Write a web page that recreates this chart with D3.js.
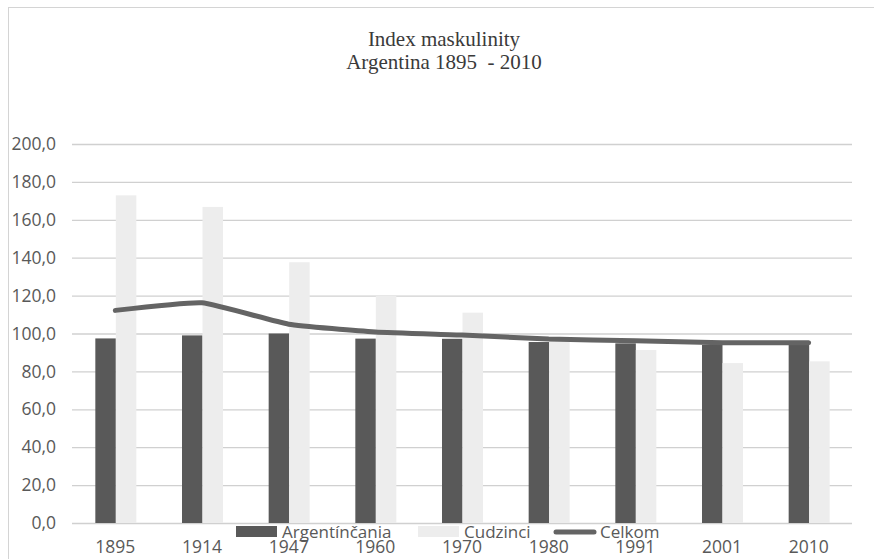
<!DOCTYPE html>
<html>
<head>
<meta charset="utf-8">
<script src="https://cdn.jsdelivr.net/npm/d3@7"></script>
<style>
  body { margin: 0; background: #fff; }
  svg { display: block; }
</style>
</head>
<body>
<div id="chart"></div>
<script>
const years = ['1895', '1914', '1947', '1960', '1970', '1980', '1991', '2001', '2010']
const argentincania = [97.4, 99.0, 100.0, 97.3, 97.2, 95.5, 94.8, 94.0, 94.1]
const cudzinci = [172.9, 166.8, 137.6, 119.8, 111.0, 97.5, 91.3, 84.4, 85.3]
const celkom = [112.2, 116.2, 104.9, 100.8, 99.2, 97.1, 96.2, 95.1, 95.1]
const yTicks = [0, 20, 40, 60, 80, 100, 120, 140, 160, 180, 200]
const seriesNames = ['Argentínčania', 'Cudzinci', 'Celkom']

const W = 874, H = 559
const margin = { top: 144, right: 22, bottom: 36, left: 72 }
const width = W - margin.left - margin.right
const height = H - margin.top - margin.bottom
const textColor = '#595959'
const font = '"Open Sans", sans-serif'

const svg = d3.select('#chart').append('svg')
  .attr('width', W)
  .attr('height', H)

// chart frame
svg.append('rect')
  .attr('x', 8.5).attr('y', 7.5)
  .attr('width', W + 10).attr('height', H + 10)
  .attr('fill', 'none')
  .attr('stroke', '#d4d4d4')

// title
const title = svg.append('text')
  .attr('text-anchor', 'middle')
  .style('font-family', '"Liberation Serif", serif')
  .style('font-size', '21px')
  .attr('fill', '#3a3a3a')
title.append('tspan').attr('x', 444).attr('y', 46).text('Index maskulinity')
title.append('tspan').attr('x', 444).attr('y', 69).attr('xml:space', 'preserve').text('Argentina 1895  - 2010')

const g = svg.append('g').attr('transform', `translate(${margin.left},${margin.top})`)

const x = d3.scaleBand().domain(years).range([0, width]).padding(0)
const bw = x.bandwidth()
const x1 = d3.scaleBand().domain(seriesNames.slice(0, 2)).range([bw / 2 - 20, bw / 2 + 21])
const y = d3.scaleLinear().domain([0, 200]).range([height, 0])

// gridlines
g.append('g')
  .call(d3.axisLeft(y).tickValues(yTicks).tickSize(-width).tickFormat(''))
  .call(s => s.select('.domain').remove())
  .call(s => s.selectAll('line').attr('stroke', '#d0d0d0').attr('stroke-width', 1.3))

// y labels
g.append('g')
  .call(d3.axisLeft(y).tickValues(yTicks).tickSize(0).tickPadding(16)
    .tickFormat(d => d3.format('.1f')(d).replace('.', ',')))
  .call(s => s.select('.domain').remove())
  .call(s => s.selectAll('text')
    .style('font-family', font).style('font-size', '17.5px').attr('fill', textColor))

// bars
const groups = g.append('g').selectAll('g')
  .data(years)
  .join('g')
  .attr('transform', d => `translate(${x(d)},0)`)

groups.append('rect')
  .attr('x', x1('Argentínčania'))
  .attr('width', x1.bandwidth())
  .attr('y', (d, i) => y(argentincania[i]))
  .attr('height', (d, i) => height - y(argentincania[i]))
  .attr('fill', '#595959')

groups.append('rect')
  .attr('x', x1('Cudzinci'))
  .attr('width', x1.bandwidth())
  .attr('y', (d, i) => y(cudzinci[i]))
  .attr('height', (d, i) => height - y(cudzinci[i]))
  .attr('fill', '#ededed')

// line
const line = d3.line()
  .x((d, i) => x(years[i]) + bw / 2)
  .y(d => y(d))
  .curve(d3.curveCardinal.tension(0.6))

g.append('path')
  .datum(celkom)
  .attr('d', line)
  .attr('fill', 'none')
  .attr('stroke', '#646464')
  .attr('stroke-width', 5)
  .attr('stroke-linecap', 'round')

// x labels
g.append('g')
  .attr('transform', `translate(0,${height})`)
  .call(d3.axisBottom(x).tickSize(0).tickPadding(18))
  .call(s => s.select('.domain').remove())
  .call(s => s.selectAll('text')
    .style('font-family', font).style('font-size', '17.5px').attr('fill', textColor))

// legend
const legend = svg.append('g').attr('transform', 'translate(0,532)')
const legendItems = [
  { name: seriesNames[0], x: 236, type: 'bar', color: '#595959' },
  { name: seriesNames[1], x: 418, type: 'bar', color: '#ededed' },
  { name: seriesNames[2], x: 554, type: 'line', color: '#646464' }
]
legendItems.forEach(it => {
  if (it.type === 'bar') {
    legend.append('rect')
      .attr('x', it.x).attr('y', -6)
      .attr('width', 41).attr('height', 11)
      .attr('fill', it.color)
  } else {
    legend.append('line')
      .attr('x1', it.x + 2).attr('x2', it.x + 40)
      .attr('y1', 0).attr('y2', 0)
      .attr('stroke', it.color).attr('stroke-width', 5)
      .attr('stroke-linecap', 'round')
  }
  legend.append('text')
    .attr('x', it.x + 46).attr('y', 6)
    .style('font-family', font).style('font-size', '17px')
    .attr('fill', textColor)
    .text(it.name)
})
</script>
</body>
</html>
